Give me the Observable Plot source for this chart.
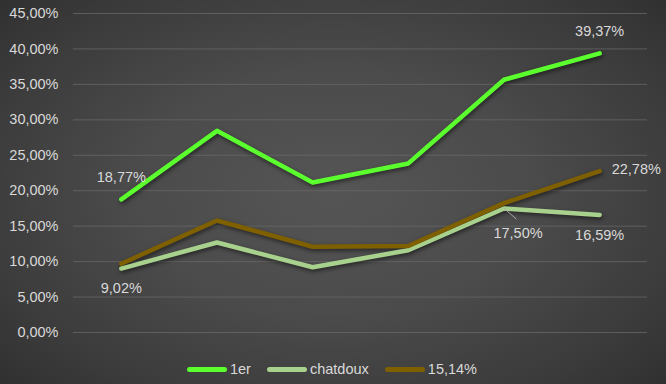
<!DOCTYPE html>
<html>
<head>
<meta charset="utf-8">
<script src="https://cdn.jsdelivr.net/npm/d3@7"></script>
<script src="https://cdn.jsdelivr.net/npm/@observablehq/plot@0.6"></script>
<style>
  html, body { margin: 0; padding: 0; }
  #chart {
    width: 666px; height: 384px; overflow: hidden;
    background: radial-gradient(ellipse 75% 80% at 50% 50%, #555555 0%, #4b4b4b 40%, #3a3a3a 75%, #2b2b2b 100%);
    font-family: "Liberation Sans", Arial, sans-serif;
  }
  #chart svg { display: block; background: transparent; }
  .legend { height: 34px; display: flex; justify-content: center; align-items: center; padding-top: 4px; padding-right: 2px; box-sizing: border-box; color: #d9d9d9; font-size: 14.5px; }
  .legend .item { display: flex; align-items: center; margin: 0 8px; }
  .legend .swatch { width: 40px; height: 5px; border-radius: 3px; margin-right: 3px; }
  .shadow { filter: drop-shadow(1px 2px 2px rgba(0,0,0,0.55)); }
</style>
</head>
<body>
<div id="chart"></div>
<script>
const periods = [1, 2, 3, 4, 5, 6];
const seriesNames = ["1er", "chatdoux", "15,14%"];
const serie1er = [18.77, 28.45, 21.15, 23.85, 35.65, 39.37];
const serieChatdoux = [9.02, 12.70, 9.20, 11.60, 17.50, 16.59];
const serie1514 = [9.70, 15.80, 12.10, 12.20, 18.25, 22.78];
const colors = ["#5cff2e", "#a9d18e", "#7f6000"];
const yTicks = [0, 5, 10, 15, 20, 25, 30, 35, 40, 45];

const fmt = d => d.toFixed(2).replace(".", ",") + "%";
const allSeries = [serie1er, serieChatdoux, serie1514];
const rows = allSeries.flatMap((vals, s) => vals.map((v, i) => ({period: periods[i], value: v, series: seriesNames[s]})));
const pick = (s, i) => ({period: periods[i], value: allSeries[s][i]});

const labelsAbove = [pick(0, 0), pick(0, 5)];
const labelsBelow = [pick(1, 0), pick(1, 5)];
const labelsRight = [pick(2, 5)];
const labelsLeader = [pick(1, 4)];

const textStyle = {fill: "#d9d9d9", fontSize: 14.5, text: d => fmt(d.value), x: "period", y: "value"};

const plot = Plot.plot({
  width: 666,
  height: 350,
  marginLeft: 73,
  marginRight: 19,
  marginTop: 13,
  marginBottom: 18,
  style: {background: "transparent", fontFamily: "Liberation Sans, Arial, sans-serif"},
  x: {type: "linear", domain: [0.5, 6.5], axis: null},
  y: {domain: [0, 45], ticks: yTicks, tickFormat: fmt, tickSize: 0, tickPadding: 15, label: null},
  color: {domain: seriesNames, range: colors},
  marks: [
    Plot.gridY(yTicks, {stroke: "#666666", strokeOpacity: 0.8, strokeWidth: 1}),
    Plot.axisY(yTicks, {tickFormat: fmt, tickSize: 0, tickPadding: 15, fill: "#d9d9d9", fontSize: 14.5, label: null}),
    Plot.lineY(rows, {x: "period", y: "value", z: "series", stroke: "series", strokeWidth: 4.5, strokeLinecap: "round", strokeLinejoin: "round", className: "shadow"}),
    Plot.text(labelsAbove, {...textStyle, dy: -22}),
    Plot.text(labelsBelow, {...textStyle, dy: 20}),
    Plot.text(labelsRight, {...textStyle, dx: 12, textAnchor: "start", dy: -2}),
    Plot.link(labelsLeader, {x1: "period", y1: "value", x2: d => d.period + 0.13, y2: d => d.value - 1.5, stroke: "#a6a6a6", strokeWidth: 1}),
    Plot.text(labelsLeader, {...textStyle, dx: 14, dy: 25})
  ]
});

const chart = document.getElementById("chart");
chart.appendChild(plot);

const legend = document.createElement("div");
legend.className = "legend";
seriesNames.forEach((name, i) => {
  const item = document.createElement("div");
  item.className = "item";
  const sw = document.createElement("span");
  sw.className = "swatch";
  sw.style.background = colors[i];
  const lab = document.createElement("span");
  lab.textContent = name;
  item.appendChild(sw);
  item.appendChild(lab);
  legend.appendChild(item);
});
chart.appendChild(legend);
</script>
</body>
</html>
